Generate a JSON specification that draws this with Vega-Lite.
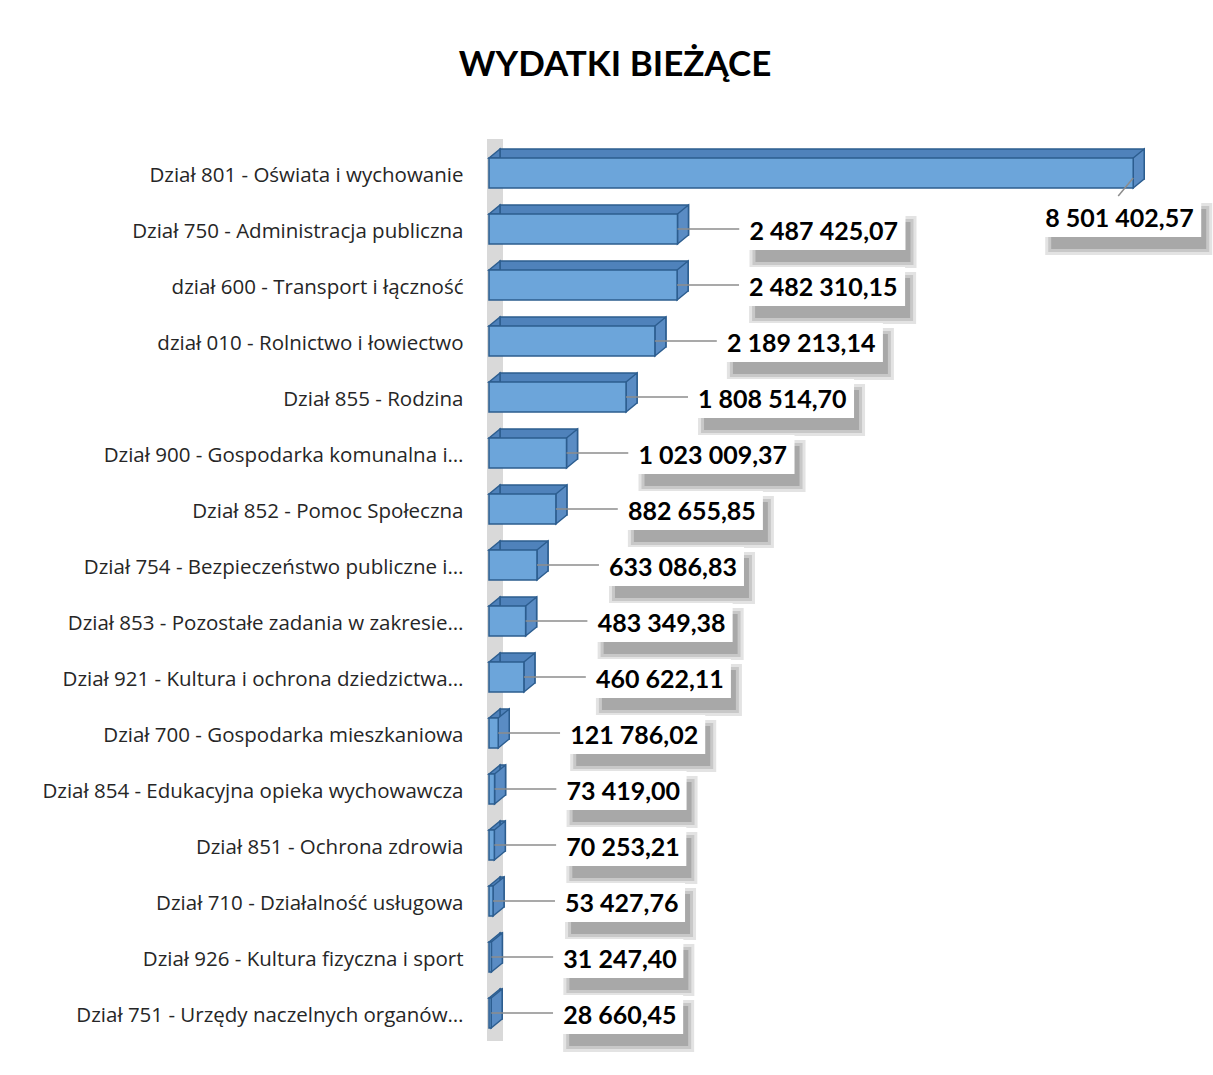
{
  "$schema": "https://vega.github.io/schema/vega-lite/v6.json",
  "width": 682,
  "height": 896,
  "autosize": {"type": "none"},
  "padding": {"left": 489, "top": 145, "right": 42, "bottom": 34},
  "background": "white",
  "title": {"text": "WYDATKI BIEŻĄCE", "font": "Lato", "fontSize": 35, "fontWeight": "bold", "color": "#000000", "dx": -215, "offset": 48, "anchor": "middle"},
  "config": {"view": {"stroke": null}},
  "data": {"values": [
    {"dzial": "Dział 801 - Oświata i wychowanie\u00a0", "value": 8501402.57, "label": "8 501 402,57"},
    {"dzial": "Dział 750 - Administracja publiczna", "value": 2487425.07, "label": "2 487 425,07"},
    {"dzial": "dział 600 - Transport i łączność\u00a0", "value": 2482310.15, "label": "2 482 310,15"},
    {"dzial": "dział 010 - Rolnictwo i łowiectwo", "value": 2189213.14, "label": "2 189 213,14"},
    {"dzial": "Dział 855 - Rodzina", "value": 1808514.70, "label": "1 808 514,70"},
    {"dzial": "Dział 900 - Gospodarka komunalna i…", "value": 1023009.37, "label": "1 023 009,37"},
    {"dzial": "Dział 852 - Pomoc Społeczna", "value": 882655.85, "label": "882 655,85"},
    {"dzial": "Dział 754 - Bezpieczeństwo publiczne i…", "value": 633086.83, "label": "633 086,83"},
    {"dzial": "Dział 853 - Pozostałe zadania w zakresie…", "value": 483349.38, "label": "483 349,38"},
    {"dzial": "Dział 921 - Kultura i ochrona dziedzictwa…", "value": 460622.11, "label": "460 622,11"},
    {"dzial": "Dział 700 - Gospodarka mieszkaniowa", "value": 121786.02, "label": "121 786,02"},
    {"dzial": "Dział 854 - Edukacyjna opieka wychowawcza", "value": 73419.00, "label": "73 419,00"},
    {"dzial": "Dział 851 - Ochrona zdrowia", "value": 70253.21, "label": "70 253,21"},
    {"dzial": "Dział 710 - Działalność usługowa", "value": 53427.76, "label": "53 427,76"},
    {"dzial": "Dział 926 - Kultura fizyczna i sport", "value": 31247.40, "label": "31 247,40"},
    {"dzial": "Dział 751 - Urzędy naczelnych organów…", "value": 28660.45, "label": "28 660,45"}
  ]},
  "encoding": {
    "y": {"field": "dzial", "type": "nominal", "sort": null, "title": null,
      "scale": {"paddingInner": 0.464, "paddingOuter": 0.232},
      "axis": {"ticks": false, "domain": false, "labelPadding": 26, "labelOffset": 3, "labelFont": "Open Sans", "labelFontSize": 20.5, "labelColor": "#262626", "labelLimit": 600}},
    "x": {"field": "value", "type": "quantitative", "title": null,
      "scale": {"domain": [0, 9000000], "nice": false, "zero": true},
      "axis": null}
  },
  "layer": [
    {"mark": {"type": "rule", "strokeWidth": 16, "xOffset": 6, "yOffset": -6, "color": "#d9d9d9"},
     "encoding": {"x": {"datum": 0, "type": "quantitative"}, "y": null}},
    {"mark": {"type": "bar", "xOffset": 11, "x2Offset": 11, "yOffset": -9, "y2Offset": -9, "fill": "#4f82bb", "stroke": "#2c5d8f", "strokeWidth": 1.5}},
    {"mark": {"type": "point", "filled": true, "opacity": 1, "size": 4, "fill": "#4f82bb", "stroke": "#2c5d8f", "strokeWidth": 1.5,
      "shape": "M0,-15L11,-24L11,-15Z"},
     "encoding": {"x": {"datum": 0, "type": "quantitative"}}},
    {"mark": {"type": "point", "filled": true, "opacity": 1, "size": 4, "fill": "#5a8cc4", "stroke": "#2c5d8f", "strokeWidth": 1.5,
      "shape": "M0,-15L11,-24L11,6L0,15Z"}},
    {"mark": {"type": "bar", "fill": "#6ca5da", "stroke": "#2c5d8f", "strokeWidth": 1.5}},
    {"mark": {"type": "point", "filled": false, "opacity": 1, "size": 4, "stroke": "#8c8c8c", "strokeWidth": 1.5},
     "encoding": {"shape": {"condition": [{"test": "datum.value > 5000000", "value": "M0,5L-15,23"}], "value": "M0,0L62,0"}}},
    {"mark": {"type": "point", "filled": true, "opacity": 1, "size": 4, "fill": "#e3e3e3", "strokeWidth": 0},
     "encoding": {"shape": {"condition": [
        {"test": "datum.value > 5000000", "value": "M-88,30L79,30L79,82L-88,82Z"},
        {"test": "datum.value >= 1000000", "value": "M72,-13L239,-13L239,39L72,39Z"},
        {"test": "datum.value >= 100000", "value": "M72,-13L218,-13L218,39L72,39Z"}],
       "value": "M72,-13L203,-13L203,39L72,39Z"}}},
    {"mark": {"type": "point", "filled": true, "opacity": 1, "size": 4, "fill": "#c8c8c8", "strokeWidth": 0},
     "encoding": {"shape": {"condition": [
        {"test": "datum.value > 5000000", "value": "M-85,33L76,33L76,79L-85,79Z"},
        {"test": "datum.value >= 1000000", "value": "M75,-10L236,-10L236,36L75,36Z"},
        {"test": "datum.value >= 100000", "value": "M75,-10L215,-10L215,36L75,36Z"}],
       "value": "M75,-10L200,-10L200,36L75,36Z"}}},
    {"mark": {"type": "point", "filled": true, "opacity": 1, "size": 4, "fill": "#a8a8a8", "strokeWidth": 0},
     "encoding": {"shape": {"condition": [
        {"test": "datum.value > 5000000", "value": "M-82,36L73,36L73,76L-82,76Z"},
        {"test": "datum.value >= 1000000", "value": "M78,-7L233,-7L233,33L78,33Z"},
        {"test": "datum.value >= 100000", "value": "M78,-7L212,-7L212,33L78,33Z"}],
       "value": "M78,-7L197,-7L197,33L78,33Z"}}},
    {"mark": {"type": "point", "filled": true, "opacity": 1, "size": 4, "fill": "#ffffff", "strokeWidth": 0},
     "encoding": {"shape": {"condition": [
        {"test": "datum.value > 5000000", "value": "M-98,25L68,25L68,64L-98,64Z"},
        {"test": "datum.value >= 1000000", "value": "M62,-18L228,-18L228,21L62,21Z"},
        {"test": "datum.value >= 100000", "value": "M62,-18L207,-18L207,21L62,21Z"}],
       "value": "M62,-18L192,-18L192,21L62,21Z"}}},
    {"transform": [{"filter": "datum.value <= 5000000"}],
     "mark": {"type": "text", "align": "left", "baseline": "middle", "dx": 72, "dy": 3, "font": "Lato", "fontSize": 25, "fontWeight": "bold", "color": "#000000"},
     "encoding": {"text": {"field": "label"}}},
    {"transform": [{"filter": "datum.value > 5000000"}],
     "mark": {"type": "text", "align": "left", "baseline": "middle", "dx": -88, "dy": 46, "font": "Lato", "fontSize": 25, "fontWeight": "bold", "color": "#000000"},
     "encoding": {"text": {"field": "label"}}}
  ]
}
